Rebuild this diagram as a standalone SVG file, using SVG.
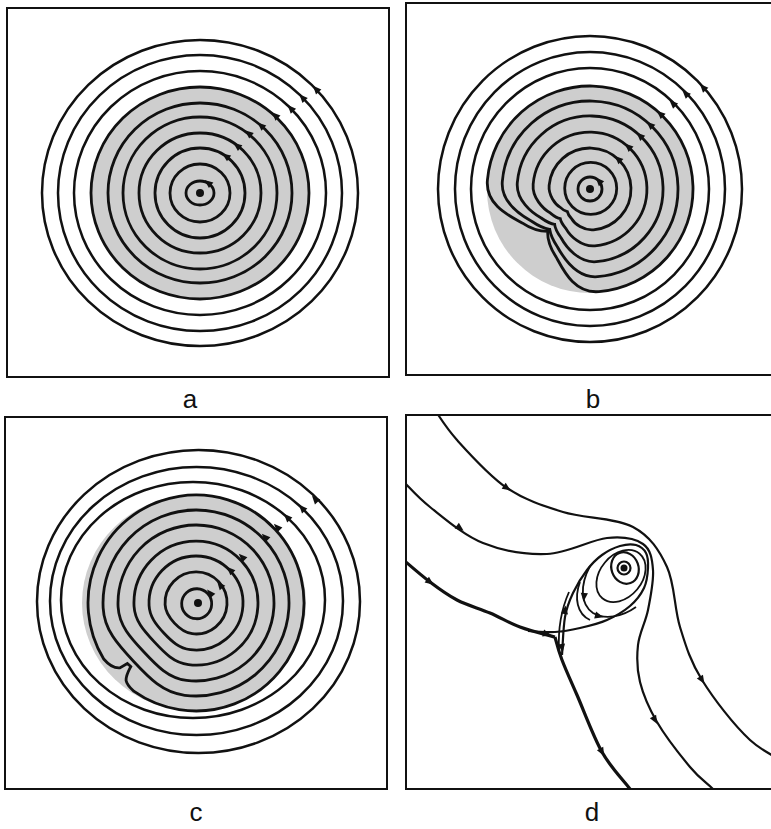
<svg xmlns="http://www.w3.org/2000/svg" width="771" height="829" viewBox="0 0 771 829">
<defs>
<style>
.box{fill:none;stroke:#111;stroke-width:2}
.c{fill:none;stroke:#111;stroke-width:2.8}
.co{fill:none;stroke:#111;stroke-width:2.5}
.sh{fill:#cecece}
.ah{fill:#111}
.dot{fill:#111}
.fl{fill:none;stroke:#111;stroke-width:2.2}
.flt{fill:none;stroke:#111;stroke-width:3.2}
.fi{fill:none;stroke:#111;stroke-width:1.8}
.lbl{font-family:"Liberation Sans",Arial,sans-serif;font-size:26px;fill:#111;text-anchor:middle}
</style>
<path id="ah" d="M4.5,0 L-4,-3.6 L-4,3.6 Z"/>
<clipPath id="cd"><rect x="406" y="415" width="365" height="374"/></clipPath>
<clipPath id="cb"><rect x="406" y="3" width="365" height="372"/></clipPath>
</defs>
<rect width="771" height="829" fill="#fff"/>

<g id="panel-a">
<rect class="box" x="7" y="8" width="382" height="369"/>
<ellipse class="sh" cx="200" cy="193" rx="109" ry="106"/>
<ellipse class="co" cx="200" cy="193" rx="158" ry="153"/>
<ellipse class="co" cx="200" cy="193" rx="142" ry="138"/>
<ellipse class="co" cx="200" cy="193" rx="126" ry="122"/>
<ellipse class="c" cx="200" cy="193" rx="109" ry="106"/>
<ellipse class="c" cx="200" cy="193" rx="92" ry="90"/>
<ellipse class="c" cx="200" cy="193" rx="77" ry="76"/>
<ellipse class="c" cx="200" cy="193" rx="61" ry="60"/>
<ellipse class="c" cx="200" cy="193" rx="45" ry="45"/>
<ellipse class="c" cx="200" cy="193" rx="30" ry="29"/>
<ellipse class="c" cx="200" cy="193" rx="14" ry="12"/>
<circle class="dot" cx="200" cy="193" r="4"/>
<g class="ah">
<use href="#ah" transform="translate(316,89) rotate(-132)"/>
<use href="#ah" transform="translate(302.4,97.5) rotate(-133)"/>
<use href="#ah" transform="translate(290.7,108.4) rotate(-133)"/>
<use href="#ah" transform="translate(275.1,115.3) rotate(-136)"/>
<use href="#ah" transform="translate(260.9,125.4) rotate(-138)"/>
<use href="#ah" transform="translate(248.4,133.2) rotate(-141)"/>
<use href="#ah" transform="translate(237,145.7) rotate(-142)"/>
<use href="#ah" transform="translate(225.8,156.1) rotate(-145)"/>
<use href="#ah" transform="translate(208,182.8) rotate(-142)"/>
</g>
<text class="lbl" x="190" y="408">a</text>
</g>

<g id="panel-b">
<g clip-path="url(#cb)">
<circle class="sh" cx="590" cy="190" r="103"/>
<ellipse class="co" cx="590" cy="189" rx="152" ry="153"/>
<ellipse class="co" cx="590" cy="189" rx="135" ry="137"/>
<ellipse class="co" cx="590" cy="189" rx="119" ry="121"/>
<g transform="translate(590,189) rotate(45)">
<path class="c" d="M 78.9,66.2 A 103,103 0 1 0 -78.9,66.2 C -62.8,85.4 -38,76 -24,72 C -14,70 -5,65 0,60 C 5,65 14,70 24,72 C 38,76 62.8,85.4 78.9,66.2 Z"/>
<path class="c" d="M 67.4,56.6 A 88,88 0 1 0 -67.4,56.6 C -53.8,72.8 -30.3,67.5 -18,64 C -10,62.5 -4,60 0,57 C 4,60 10,62.5 18,64 C 30.3,67.5 53.8,72.8 67.4,56.6 Z"/>
<path class="c" d="M 55.9,46.9 A 73,73 0 1 0 -55.9,46.9 C -44.6,60.3 -24.2,58 -14,55 C -8,54 -3,52.5 0,50 C 3,52.5 8,54 14,55 C 24.2,58 44.6,60.3 55.9,46.9 Z"/>
<path class="c" d="M 43.7,36.7 A 57,57 0 1 0 -43.7,36.7 C -34.9,47.2 -19,47.3 -11,45 C -6,44.5 -2,43.5 0,42 C 2,43.5 6,44.5 11,45 C 19,47.3 34.9,47.2 43.7,36.7 Z"/>
<path class="c" d="M 31.4,26.4 A 41,41 0 1 0 -31.4,26.4 C -25.1,33.9 -13.7,35.6 -8,34 C -4,34 -1.5,33 0,32 C 1.5,33 4,34 8,34 C 13.7,35.6 25.1,33.9 31.4,26.4 Z"/>
<circle class="c" cx="0" cy="-1" r="26"/>
<circle class="c" cx="0" cy="0" r="12"/>
</g>
<circle class="dot" cx="590" cy="189" r="4"/>
<g class="ah">
<use href="#ah" transform="translate(703,87.3) rotate(-132)"/>
<use href="#ah" transform="translate(685.5,93.5) rotate(-135)"/>
<use href="#ah" transform="translate(672.7,103.4) rotate(-136)"/>
<use href="#ah" transform="translate(660.2,113.7) rotate(-137)"/>
<use href="#ah" transform="translate(650,124.7) rotate(-137)"/>
<use href="#ah" transform="translate(639.8,135.6) rotate(-137)"/>
<use href="#ah" transform="translate(628.1,146.6) rotate(-138)"/>
<use href="#ah" transform="translate(618,159) rotate(-137)"/>
<use href="#ah" transform="translate(598.8,180.8) rotate(-133)"/>
</g>
</g>
<rect class="box" x="406" y="3" width="380" height="372"/>
<text class="lbl" x="593" y="408">b</text>
</g>

<g id="panel-c">
<rect class="box" x="5" y="417" width="382" height="372"/>
<ellipse class="sh" cx="194" cy="603" rx="112" ry="108"/>
<ellipse class="co" cx="198.5" cy="601.5" rx="161.5" ry="151.5"/>
<ellipse class="co" cx="196.5" cy="601" rx="146.5" ry="134"/>
<ellipse class="co" cx="193" cy="600" rx="132" ry="118"/>
<g transform="translate(196,603) rotate(47)">
<path class="c" d="M 22,105.7 A 108,108 0 1 0 -22,105.7 C -15,106 -8,104.5 -4.5,100 L -2.5,91.5 L 2,91 C 3.5,95 5,100.5 9,104 C 13,106.5 17,106 22,105.7 Z"/>
<path class="c" d="M 59.8,71.2 A 93,93 0 1 0 -59.8,71.2 C -43.1,85.3 -23.3,85.5 0,85.5 C 23.3,85.5 43.1,85.3 59.8,71.2 Z"/>
<path class="c" d="M 50.2,59.7 A 78,78 0 1 0 -50.2,59.7 C -36.1,71.5 -19.5,71.5 0,71.5 C 19.5,71.5 36.1,71.5 50.2,59.7 Z"/>
<path class="c" d="M 39.9,47.5 A 62,62 0 1 0 -39.9,47.5 C -28.7,56.9 -15.5,57 0,57 C 15.5,57 28.7,56.9 39.9,47.5 Z"/>
<path class="c" d="M 30.2,36 A 47,47 0 1 0 -30.2,36 C -21.8,43.1 -11.8,44 0,44 C 11.8,44 21.8,43.1 30.2,36 Z"/>
<path class="c" d="M 19.9,23.7 A 31,31 0 1 0 -19.9,23.7 C -14.4,28.4 -7.8,29.5 0,29.5 C 7.8,29.5 14.4,28.4 19.9,23.7 Z"/>
<circle class="c" cx="1" cy="0" r="15"/>
</g>
<circle class="dot" cx="198" cy="603" r="4"/>
<g class="ah">
<use href="#ah" transform="translate(315,499) rotate(-131.6)"/>
<use href="#ah" transform="translate(302,508) rotate(-132.4)"/>
<use href="#ah" transform="translate(287,517) rotate(-134)"/>
<use href="#ah" transform="translate(277,527) rotate(-134)"/>
<use href="#ah" transform="translate(265,537) rotate(-134.6)"/>
<use href="#ah" transform="translate(242,557) rotate(-136)"/>
<use href="#ah" transform="translate(230,570) rotate(-136)"/>
<use href="#ah" transform="translate(220,585) rotate(-129)"/>
<use href="#ah" transform="translate(210,593) rotate(-130)"/>
</g>
<text class="lbl" x="196" y="821">c</text>
</g>

<g id="panel-d">
<g id="connectors" clip-path="url(#cd)">
<path class="fl" d="M 430,403 C 439,415.3 444.2,425.8 457,440 C 469.8,454.2 489.3,476 507,488 C 524.7,500 542,505.5 563,512 C 584,518.5 615.7,517.8 633,527 C 650.3,536.2 659.2,550.3 667,567 C 674.8,583.7 674.2,608.2 680,627 C 685.8,645.8 690.3,661.2 702,680 C 713.7,698.8 733.7,725 750,740 C 766.3,755 783.3,760 800,770"/>
<path class="fl" d="M 400,478 C 410,487.7 416.2,496.2 430,507 C 443.8,517.8 463.5,535.2 483,543 C 502.5,550.8 526.3,554.8 547,554 C 567.7,553.2 591,539.7 607,538 C 623,536.3 635.3,538.7 643,544 C 650.7,549.3 652.2,559 653,570 C 653.8,581 650.5,597.5 648,610 C 645.5,622.5 639.3,633 638,645 C 636.7,657 636.8,669.2 640,682 C 643.2,694.8 648.7,707.8 657,722 C 665.3,736.2 680.7,755.8 690,767 C 699.3,778.2 705.3,781.7 713,789 L 730,810"/>
<path class="flt" d="M 400,557 C 408.3,564 420.5,574.8 430,582 C 439.5,589.2 447,594.8 457,600 C 467,605.2 479.5,608.5 490,613 C 500.5,617.5 509.2,623 520,627 C 530.8,631 543.3,634 555,637"/>
<path class="flt" d="M 555,637 C 557,644.5 558.3,650.3 562,660 C 565.7,669.7 570.3,679.7 577,695 C 583.7,710.3 593.2,736.3 602,752 C 610.8,767.7 623.3,780.2 630,789 L 642,805"/>
<path class="fl" d="M 562,655 C 562.8,644.5 563.2,627.3 565,617 C 566.8,606.7 569.3,600.8 573,593 C 576.7,585.2 582.2,576.3 587,570 C 591.8,563.7 596.5,559 602,555 C 607.5,551 614.3,547.7 620,546 C 625.7,544.3 631.7,543.8 636,545 C 640.3,546.2 644,549.2 646,553 C 648,556.8 648.3,562.2 648,568 C 647.7,573.8 647,581.7 644,588 C 641,594.3 636.2,600.7 630,606 C 623.8,611.3 615.3,616.3 607,620 C 598.7,623.7 588.7,626 580,628 C 571.3,630 563.7,631.5 555,632 C 546.3,632.5 536.3,631.7 528,631"/>
<path class="fi" d="M 559,650 C 558,630 561,610 569,592"/>
<path class="fi" d="M 590,566 C 580,585 580,604 593,613 C 605,620 622,617 636,607"/>
<path class="fi" d="M 580,582 C 574,598 577,614 590,620"/>
<ellipse class="fi" cx="621" cy="576" rx="29" ry="21" transform="rotate(-50 621 576)"/>
<ellipse class="fl" cx="625" cy="568" rx="13.5" ry="16" transform="rotate(-20 625 568)"/>
<circle class="fl" cx="624" cy="568" r="6.5"/>
<circle class="dot" cx="624" cy="568" r="3.5"/>
</g>
<g class="ah">
<use href="#ah" transform="translate(507,488) rotate(34)"/>
<use href="#ah" transform="translate(702,680) rotate(58)"/>
<use href="#ah" transform="translate(460,528) rotate(36)"/>
<use href="#ah" transform="translate(655,720) rotate(60)"/>
<use href="#ah" transform="translate(430,582) rotate(37)"/>
<use href="#ah" transform="translate(602,752) rotate(61)"/>
<use href="#ah" transform="translate(547,634) rotate(15)"/>
<use href="#ah" transform="translate(562,648) rotate(82)"/>
<use href="#ah" transform="translate(565,610) rotate(-82)"/>
<use href="#ah" transform="translate(584,597) rotate(95)"/>
<use href="#ah" transform="translate(599,616) rotate(15)"/>
</g>
<rect class="box" x="406" y="415" width="380" height="374" stroke-width="2.5"/>
<text class="lbl" x="592" y="821">d</text>
</g>
</svg>
